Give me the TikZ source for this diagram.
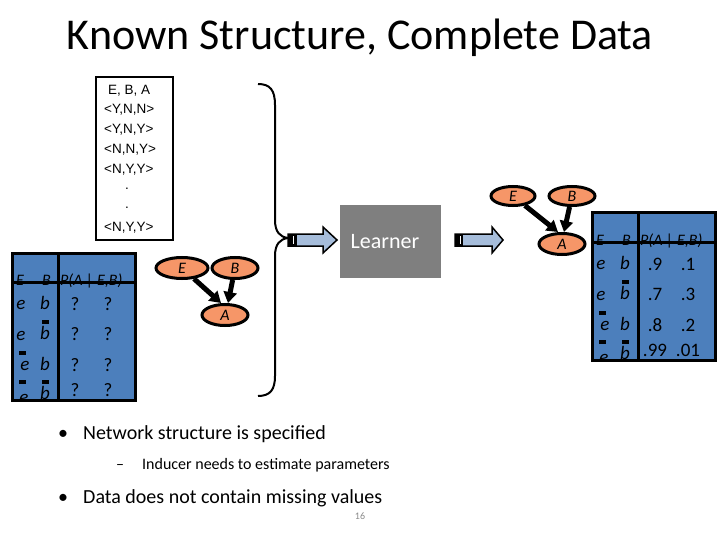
\documentclass[tikz,border=0pt]{standalone}
\usepackage{fontspec}
\setmainfont{Carlito}
\newfontfamily\arialf{Liberation Sans}
\usetikzlibrary{arrows.meta,shapes.geometric}
\definecolor{tblue}{RGB}{76,127,188}
\definecolor{torange}{RGB}{246,150,104}
\definecolor{arrblue}{RGB}{166,189,219}
\definecolor{lgray}{RGB}{127,127,127}
\definecolor{pgnum}{RGB}{140,140,140}
\tikzset{
  netnode/.style={ellipse, draw=black, line width=3pt, fill=torange, minimum width=46pt, minimum height=21pt, inner sep=0pt, font=\fontsize{16}{16}\selectfont\itshape},
  netarrow/.style={line width=5pt, -{Triangle[length=11pt,width=13pt]}},
  hdr/.style={anchor=base west, inner sep=0pt, font=\fontsize{16}{16}\selectfont\itshape},
  cell/.style={anchor=base, inner sep=0pt, font=\fontsize{19}{19}\selectfont\itshape},
  val/.style={anchor=base, inner sep=0pt, font=\fontsize{19}{19}\selectfont},
  tline/.style={line width=3pt, draw=black},
  datatxt/.style={anchor=west, inner sep=0pt, font=\arialf\fontsize{13.5}{13.5}\selectfont},
  blockarrow/.style={fill=arrblue, draw=black, line width=1.5pt, line join=miter},
}
\newcommand{\ovbar}[2]{\fill[black] (#1-3.5,#2-1.8) rectangle (#1+3.5,#2+1.8);}
\newcommand{\cptable}[9]{%
  \fill[tblue] (0,0) rectangle (123,147);
  \begin{scope}
    \clip (0,0) rectangle (123,147);
    \node[hdr] (#1hE) at (4,32) {E};
    \node[hdr] (#1hB) at (30,32) {B};
    \node[hdr] (#1hP) at (48,32) {P(A | E,B)};
    \node[cell] (#1e1) at (9,56) {e};
    \node[cell] (#1b1) at (33,56) {b};
    \node[cell] (#1e2) at (9,87) {e};
    \node[cell] (#1b2) at (33,86) {b};
    \node[cell] (#1e3) at (13,117) {e};
    \node[cell] (#1b3) at (33,117) {b};
    \node[cell] (#1e4) at (12,150) {e};
    \node[cell] (#1b4) at (33,146) {b};
    \ovbar{33}{69}
    \ovbar{10}{100}
    \ovbar{10}{129}
    \ovbar{33}{129}
    \node[val] (#1v11) at (63,57) {#2};
    \node[val] (#1v12) at (96,57) {#3};
    \node[val] (#1v21) at (63,87) {#4};
    \node[val] (#1v22) at (96,87) {#5};
    \node[val] (#1v31) at (63,118) {#6};
    \node[val] (#1v32) at (96,118) {#7};
    \node[val] (#1v41) at (63,143) {#8};
    \node[val] (#1v42) at (96,143) {#9};
  \end{scope}
  \draw[tline] (0,0) rectangle (123,147);
  \draw[tline] (0,29) -- (123,29);
  \draw[tline] (46,0) -- (46,147);
}
\begin{document}
\begin{tikzpicture}[x=1pt,y=-1pt]
\useasboundingbox (0,0) rectangle (720,540);
\fill[white] (0,0) rectangle (720,540);

% title
\node[anchor=base, inner sep=0pt, font=\fontsize{44}{44}\selectfont] (title) at (360,50) {Known Structure, Complete Data};

% data box
\draw[line width=1.5pt] (96,77) rectangle (173,240);
\node[datatxt] (d0) at (108,91) {E, B, A};
\node[datatxt] (d1) at (104,110) {<Y,N,N>};
\node[datatxt] (d2) at (104,130) {<Y,N,Y>};
\node[datatxt] (d3) at (104,150) {<N,N,Y>};
\node[datatxt] (d4) at (104,170) {<N,Y,Y>};
\node[datatxt] (d5) at (125,189) {.};
\node[datatxt] (d6) at (125,208) {.};
\node[datatxt] (d7) at (104,228) {<N,Y,Y>};

% left table
\begin{scope}[shift={(12,253)}]
  \cptable{L}{?}{?}{?}{?}{?}{?}{?}{?}
\end{scope}

% left network
\node[netnode, minimum width=52pt] (LE) at (182,268) {E};
\node[netnode] (LB) at (235,268) {B};
\node[netnode] (LA) at (225,315) {A};
\draw[netarrow] (LE) -- ([xshift=-4pt]LA.north);
\draw[netarrow] (LB) -- ([xshift=3pt]LA.north);

% brace
\draw[line width=2pt] (258,84) .. controls (270,84) and (275,90) .. (275,105)
  -- (275,220) .. controls (275,232) and (280,237) .. (288,238)
  .. controls (280,239) and (275,244) .. (275,256)
  -- (275,376) .. controls (275,390) and (270,396) .. (258,396);

% left block arrow
\path[blockarrow] (288,234) -- (323,234) -- (323,227) -- (337,240) -- (323,253) -- (323,246) -- (288,246) -- cycle;
\fill[black] (288,234) rectangle (297,246);
\draw[white, line width=0.8pt] (293,236) -- (293,244);

% learner
\fill[lgray] (340,205) rectangle (441,278);
\node[text=white, inner sep=0pt, font=\fontsize{22}{22}\selectfont] (learner) at (385,242) {Learner};

% right block arrow
\path[blockarrow] (455,234) -- (492,234) -- (492,227) -- (503,240) -- (492,253) -- (492,246) -- (455,246) -- cycle;
\fill[black] (455,234) rectangle (463,246);
\draw[white, line width=0.8pt] (460,236) -- (460,244);

% right network
\node[netnode, minimum width=44pt, minimum height=19pt] (RE) at (513,196) {E};
\node[netnode, minimum width=46pt, minimum height=19pt] (RB) at (572,196) {B};
\node[netnode, minimum width=46pt] (RA) at (562,244) {A};
\draw[netarrow] (RE) -- ([xshift=-4pt]RA.north);
\draw[netarrow] (RB) -- ([xshift=2pt]RA.north);

% right table
\begin{scope}[shift={(592,213)}]
  \cptable{R}{.9}{.1}{.7}{.3}{.8}{.2}{.99}{.01}
\end{scope}

% bullets
\node[anchor=base west, inner sep=0pt, font=\fontsize{20}{20}\selectfont] (b1) at (58,439) {\textbullet};
\node[anchor=base west, inner sep=0pt, font=\fontsize{20}{20}\selectfont] (t1) at (83,439) {Network structure is specified};
\node[anchor=base west, inner sep=0pt, font=\fontsize{16}{16}\selectfont] (b2) at (116,469) {–};
\node[anchor=base west, inner sep=0pt, font=\fontsize{16}{16}\selectfont] (t2) at (142,469) {Inducer needs to estimate parameters};
\node[anchor=base west, inner sep=0pt, font=\fontsize{20}{20}\selectfont] (b3) at (58,503) {\textbullet};
\node[anchor=base west, inner sep=0pt, font=\fontsize{20}{20}\selectfont] (t3) at (83,503) {Data does not contain missing values};
\node[anchor=base, inner sep=0pt, text=pgnum, font=\fontsize{10}{10}\selectfont] (pg) at (360,519) {16};
\end{tikzpicture}
\end{document}
